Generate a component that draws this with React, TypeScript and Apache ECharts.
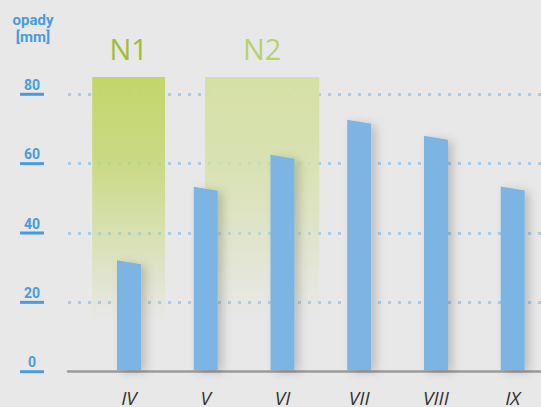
import React, { useEffect, useRef } from 'react';
import * as echarts from 'echarts';

// ---- data ----
const months = ['IV', 'V', 'VI', 'VII', 'VIII', 'IX'];
const rainfall = [31.3, 52.6, 61.9, 72.0, 67.4, 52.7];
const yMin = 0;
const yMax = 80;
const yStep = 20;
const unitLabel = 'opady\n[mm]';
const zoneLabels = ['N1', 'N2'];
const zoneStart = [-0.48, 0.99]; // in category units
const zoneEnd = [0.47, 2.48];
const zoneTop = 85;
const zoneFadeTo = 14;

// ---- styles ----
const BG = '#e8e8e9';
const BLUE = '#4a9bd9';
const BAR = '#7bb5e4';
const zoneFill = ['#c3d66b', '#d5e0a4'];
const zoneText = ['#9cbf33', '#b9d06c'];

export default function App() {
  const ref = useRef<HTMLDivElement>(null);
  useEffect(() => {
    if (!ref.current) return;
    const chart = echarts.init(ref.current, null, { renderer: 'svg' });
    const top = 94.3;
    const bottom = 35.3;
    chart.setOption({
      animation: false,
      backgroundColor: BG,
      graphic: [
        {
          type: 'text',
          x: 33,
          y: 11,
          style: {
            text: unitLabel,
            align: 'center',
            verticalAlign: 'top',
            fill: BLUE,
            font: 'bold 15px Roboto',
            lineHeight: 17,
          },
        },
      ],
      grid: [
        { left: 68, right: 0, top, bottom },
        { left: 129, right: 28.3, top, bottom },
      ],
      xAxis: [
        {
          gridIndex: 0,
          type: 'value',
          min: 0,
          max: 1,
          axisLine: { show: true, lineStyle: { color: '#9b9b9b', width: 2.5 } },
          axisTick: { show: false },
          axisLabel: { show: false },
          splitLine: { show: false },
        },
        {
          gridIndex: 1,
          type: 'category',
          boundaryGap: false,
          data: months,
          axisLine: { show: false },
          axisTick: { show: false },
          axisLabel: {
            margin: 18,
            fontSize: 19,
            fontStyle: 'italic',
            color: '#333333',
            fontFamily: 'Open Sans',
            interval: 0,
          },
          splitLine: { show: false },
        },
      ],
      yAxis: [
        {
          gridIndex: 0,
          type: 'value',
          min: yMin,
          max: yMax,
          interval: yStep,
          axisLine: { show: false },
          axisTick: { show: false },
          axisLabel: {
            margin: 36,
            align: 'center',
            verticalAlign: 'middle',
            padding: [0, 0, 16, 0],
            formatter: (v: number) => `{v|${v}}\n{u| }`,
            rich: {
              v: {
                fontSize: 14,
                fontWeight: 'bold',
                color: BLUE,
                fontFamily: 'Roboto',
                lineHeight: 16,
                align: 'center',
              },
              u: {
                width: 24,
                height: 3,
                lineHeight: 3,
                fontSize: 1,
                backgroundColor: BLUE,
                align: 'center',
              },
            },
          },
          splitLine: {
            show: true,
            showMinLine: false,
            lineStyle: { color: '#abcbe6', width: 3, type: [3, 7] },
          },
        },
        { gridIndex: 1, type: 'value', min: yMin, max: yMax, show: false },
      ],
      series: [
        {
          type: 'custom',
          xAxisIndex: 1,
          yAxisIndex: 1,
          z: 1,
          silent: true,
          data: zoneLabels.map((_, i) => [i, zoneTop]),
          renderItem: (params: any, api: any) => {
            const i = params.dataIndex;
            const band = api.size([1, 0])[0];
            const s = Math.round(zoneStart[i]);
            const e = Math.round(zoneEnd[i]);
            const x0 = api.coord([s, zoneTop])[0] + (zoneStart[i] - s) * band;
            const x1 = api.coord([e, zoneTop])[0] + (zoneEnd[i] - e) * band;
            const yT = api.coord([0, zoneTop])[1];
            const yB = api.coord([0, zoneFadeTo])[1];
            return {
              type: 'group',
              children: [
                {
                  type: 'rect',
                  shape: { x: x0, y: yT, width: x1 - x0, height: yB - yT },
                  style: {
                    fill: {
                      type: 'linear',
                      x: 0,
                      y: 0,
                      x2: 0,
                      y2: 1,
                      colorStops: [
                        { offset: 0, color: zoneFill[i] },
                        { offset: 0.35, color: zoneFill[i] + 'cc' },
                        { offset: 1, color: zoneFill[i] + '00' },
                      ],
                    },
                  },
                },
                {
                  type: 'text',
                  x: (x0 + x1) / 2,
                  y: yT - 29,
                  style: {
                    text: zoneLabels[i],
                    align: 'center',
                    verticalAlign: 'middle',
                    fill: zoneText[i],
                    font: '29px "Open Sans"',
                  },
                },
              ],
            };
          },
        },
        {
          type: 'custom',
          xAxisIndex: 1,
          yAxisIndex: 1,
          z: 2,
          data: rainfall.map((v, i) => [i, v]),
          renderItem: (params: any, api: any) => {
            const p = api.coord([api.value(0), api.value(1)]);
            const b = api.coord([api.value(0), 0]);
            const hw = 12;
            return {
              type: 'polygon',
              shape: {
                points: [
                  [p[0] - hw, p[1] - 2],
                  [p[0] + hw, p[1] + 2],
                  [p[0] + hw, b[1]],
                  [p[0] - hw, b[1]],
                ],
              },
              style: {
                fill: BAR,
                shadowBlur: 10,
                shadowColor: 'rgba(0,0,0,0.18)',
                shadowOffsetX: 5,
                shadowOffsetY: 2,
              },
            };
          },
        },
      ],
    });
    return () => chart.dispose();
  }, []);
  return (
    <div
      ref={ref}
      style={{ position: 'fixed', left: 0, top: 0, width: 541, height: 407 }}
    />
  );
}
